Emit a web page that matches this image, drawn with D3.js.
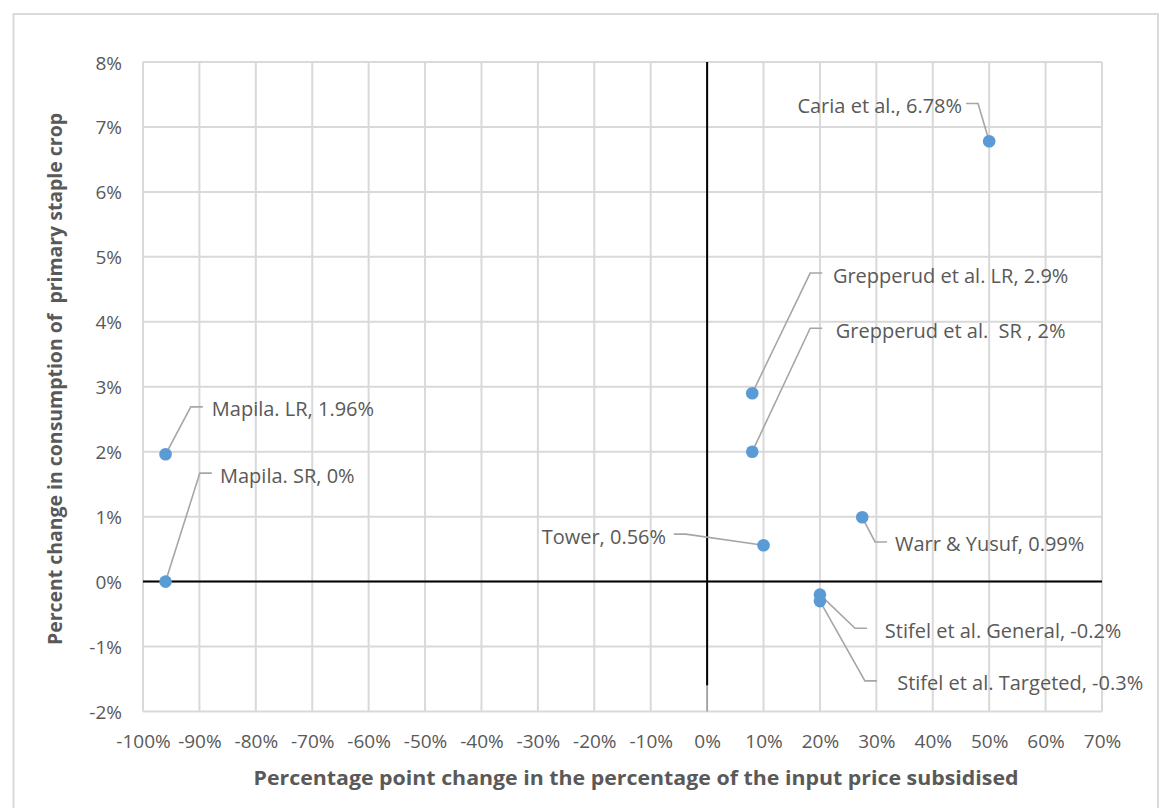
<!DOCTYPE html>
<html>
<head>
<meta charset="utf-8">
<script src="https://cdn.jsdelivr.net/npm/d3@7"></script>
<style>
  html, body { margin: 0; padding: 0; background: #fff; }
  svg { display: block; font-family: "Open Sans", sans-serif; }
</style>
</head>
<body>
<svg id="chart" width="1160" height="808"></svg>
<script>
// ---------- data ----------
const studies = ["Caria et al.", "Grepperud et al. LR", "Grepperud et al.  SR ", "Mapila. LR", "Mapila. SR",
                 "Tower", "Warr & Yusuf", "Stifel et al. General", "Stifel et al. Targeted"];
const xValues = [50, 8, 8, -96, -96, 10, 27.5, 20, 20];          // % point change in subsidy
const yValues = [6.78, 2.9, 2, 1.96, 0, 0.56, 0.99, -0.2, -0.3];   // % change in consumption
const valueText = ["6.78%", "2.9%", "2%", "1.96%", "0%", "0.56%", "0.99%", "-0.2%", "-0.3%"];
const xTicks = [-100, -90, -80, -70, -60, -50, -40, -30, -20, -10, 0, 10, 20, 30, 40, 50, 60, 70];
const yTicks = [-2, -1, 0, 1, 2, 3, 4, 5, 6, 7, 8];
const xTitle = "Percentage point change in the percentage of the input price subsidised";
const yTitle = "Percent change in consumption of  primary staple crop";

// label placement (in data units): text x, text y, leader attach x, text side
const labelTX = [45.2, 22.3, 22.8, -87.8, -86.35, -7.28, 33.3, 31.5, 33.7];
const labelTY = [7.33, 4.72, 3.87, 2.66, 1.64, 0.70, 0.58, -0.75, -1.56];
const labelAX = [45.9, 20.4, 20.4, -89.4, -87.8, -5.9, 31.9, 28.35, 30.1];
const labelSide = ["end", "start", "start", "start", "start", "end", "start", "start", "start"];

// ---------- layout ----------
const svg = d3.select("#chart");
const x = d3.scaleLinear().domain([-100, 70]).range([143, 1102]);
const y = d3.scaleLinear().domain([-2, 8]).range([711.5, 62]);
const fmt = d => d + "%";
const textCol = "#595959";
const gridCol = "#d9d9d9";

// outer chart border
svg.append("rect").attr("x", 13.5).attr("y", 14).attr("width", 1144.5).attr("height", 820)
  .attr("fill", "none").attr("stroke", "#d9d9d9").attr("stroke-width", 2);

// gridlines
const grid = svg.append("g");
grid.selectAll("line.v").data(xTicks).join("line")
  .attr("x1", d => x(d)).attr("x2", d => x(d)).attr("y1", y(8)).attr("y2", y(-2))
  .attr("stroke", gridCol).attr("stroke-width", 2);
grid.selectAll("line.h").data(yTicks).join("line")
  .attr("y1", d => y(d)).attr("y2", d => y(d)).attr("x1", x(-100)).attr("x2", x(70))
  .attr("stroke", gridCol).attr("stroke-width", 2);

// axes (tick labels via d3 axes)
const xAxis = d3.axisBottom(x).tickValues(xTicks).tickFormat(fmt).tickSize(0).tickPadding(0);
const yAxis = d3.axisLeft(y).tickValues(yTicks).tickFormat(fmt).tickSize(0).tickPadding(0);

const gx = svg.append("g").attr("transform", `translate(0, 741)`).call(xAxis);
gx.select(".domain").remove();
gx.selectAll("text").attr("fill", textCol).attr("font-size", 19)
  .attr("font-family", "Open Sans").attr("dy", null).attr("y", 0).attr("dominant-baseline", "central");

const gy = svg.append("g").attr("transform", `translate(122, 0)`).call(yAxis);
gy.select(".domain").remove();
gy.selectAll("text").attr("fill", textCol).attr("font-size", 19)
  .attr("font-family", "Open Sans").attr("dy", null).attr("x", 0).attr("dominant-baseline", "central");

// zero lines
svg.append("line").attr("x1", x(-100)).attr("x2", x(70)).attr("y1", y(0)).attr("y2", y(0))
  .attr("stroke", "#000").attr("stroke-width", 2);
svg.append("line").attr("x1", x(0)).attr("x2", x(0)).attr("y1", y(8)).attr("y2", y(-1.6))
  .attr("stroke", "#000").attr("stroke-width", 2);
svg.append("line").attr("x1", x(0)).attr("x2", x(0)).attr("y1", y(-1.6)).attr("y2", y(-2))
  .attr("stroke", "#9a9a9a").attr("stroke-width", 1.5);

// axis titles
svg.append("text").attr("x", 636).attr("y", 777).attr("text-anchor", "middle")
  .attr("dominant-baseline", "central").attr("font-weight", "bold").attr("font-size", 19.5)
  .attr("fill", textCol).attr("textLength", 765).attr("lengthAdjust", "spacingAndGlyphs").text(xTitle);
svg.append("text").attr("transform", "translate(55,379) rotate(-90)").attr("text-anchor", "middle")
  .attr("dominant-baseline", "central").attr("font-weight", "bold").attr("font-size", 19)
  .style("white-space", "pre")
  .attr("fill", textCol).attr("textLength", 532).attr("lengthAdjust", "spacingAndGlyphs").text(yTitle);

// leader lines
const idx = d3.range(studies.length);
svg.append("g").selectAll("path").data(idx).join("path")
  .attr("d", i => {
    const ax = x(labelAX[i]), ay = y(labelTY[i]) - 2;
    const ex = labelSide[i] === "start" ? ax - 12 : ax + 12;
    return `M${ax},${ay}L${ex},${ay}L${x(xValues[i])},${y(yValues[i])}`;
  })
  .attr("fill", "none").attr("stroke", "#a6a6a6").attr("stroke-width", 1.6);

// points
svg.append("g").selectAll("circle").data(idx).join("circle")
  .attr("cx", i => x(xValues[i])).attr("cy", i => y(yValues[i])).attr("r", 6.3)
  .attr("fill", "#5b9bd5");

// labels
svg.append("g").selectAll("text").data(idx).join("text")
  .attr("x", i => x(labelTX[i])).attr("y", i => y(labelTY[i]))
  .attr("text-anchor", i => labelSide[i]).attr("dominant-baseline", "central")
  .attr("font-size", 20).attr("fill", textCol).style("white-space", "pre")
  .text(i => `${studies[i]}, ${valueText[i]}`);
</script>
</body>
</html>
